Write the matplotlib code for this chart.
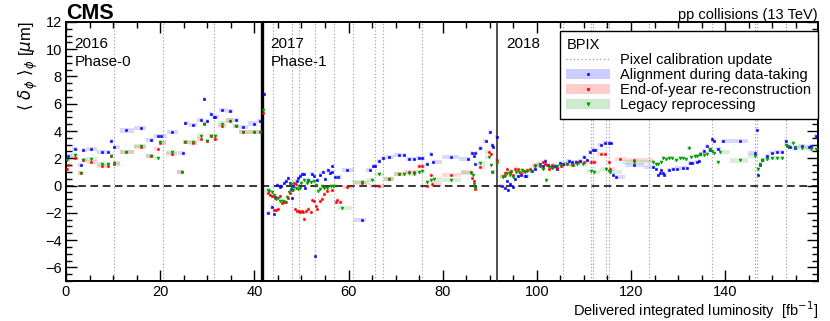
import numpy as np
import matplotlib
matplotlib.use('Agg')
import matplotlib.pyplot as plt
from matplotlib.lines import Line2D
from matplotlib.patches import Patch
from matplotlib.ticker import MultipleLocator

plt.rcParams['font.family'] = ['Liberation Sans', 'DejaVu Sans']
plt.rcParams['mathtext.fontset'] = 'dejavusans'

# ---- data ----
# alignment during data-taking (blue)
lumi_online = [0.4, 2.0, 3.2, 3.7, 5.4, 7.6, 8.9, 9.6, 10.3, 12.8, 15.9, 18.0, 19.5, 20.2, 22.6, 24.8, 25.2,
               26.9, 28.7, 29.4, 30.0, 30.7, 31.5, 31.7, 33.1, 34.9, 36.1, 37.5, 39.9, 41.3,
               42.0, 43.0, 43.7, 44.1, 44.4, 44.9, 45.4, 45.6, 46.4, 46.8, 47.2, 47.6, 47.8, 48.1, 48.3,
               49.0, 49.3, 49.75, 50.2, 50.5, 50.7, 51.3, 52.3, 52.7, 52.9, 53.3, 54.0, 54.6, 55.0,
               55.6, 56.1, 56.4, 56.6, 57.1, 57.7, 59.6, 62.8, 64.6, 65.2, 65.6, 66.5, 67.4, 68.6,
               70.7, 71.8, 72.8, 73.9, 74.9, 75.7, 76.6, 77.6, 78.0, 81.7, 85.3, 86.2, 86.7, 86.8,
               86.9, 87.9, 89.2, 90.1, 90.5, 90.7, 91.5,
               92.6, 93.2, 93.6, 93.9, 94.4, 94.9, 95.3, 96.0, 96.7, 97.4, 97.8, 98.9, 99.6, 100.6,
               101.3, 101.7, 102.4, 103.3, 103.9, 104.3, 104.9, 105.6, 106.8, 107.5, 108.4, 109.1,
               110.0, 110.7, 111.2, 111.9, 112.3, 113.6, 114.4, 115.3, 115.7, 116.2, 116.9,
               120.6, 124.7, 125.3, 125.8, 126.1, 126.4, 126.8, 127.0, 128.1, 129.0, 129.7, 131.1,
               131.9, 132.5, 133.0, 134.0, 134.5, 134.7, 135.4, 136.2, 136.7, 137.1, 137.6, 138.5,
               139.6, 143.2, 146.3, 146.8, 146.9, 147.3, 147.9, 148.8, 150.0, 150.9, 152.0, 152.9,
               153.3, 153.7, 154.8, 156.3, 157.7, 158.3, 159.3]
dphi_online = [2.19, 2.65, 1.48, 2.58, 2.65, 2.48, 2.48, 3.3, 2.8, 4.04, 4.2, 3.36, 3.64, 3.64, 3.9, 2.41, 4.6,
               4.47, 4.84, 6.35, 4.72, 5.26, 5.0, 5.0, 5.52, 5.45, 4.84, 4.3, 4.55, 4.76,
               6.7, -2.0, -1.56, -2.06, -0.83, 0.02, -0.12, 0.0, 0.2, 0.34, 0.58, 0.2, -0.25, -0.9, 0.0,
               0.36, 0.54, 0.68, 0.83, 0.88, -0.15, 0.44, 0.83, 0.68, -5.2, 0.39, 0.81, 1.0, 0.5,
               1.17, 0.9, 1.03, 1.41, 0.63, 0.63, 1.12, -2.53, 1.17, 1.41, 1.41, 1.82, 2.0, 2.07,
               2.24, 2.24, 1.95, 1.95, 2.0, 2.0, 1.56, 2.31, 1.73, 2.07, 1.95, 2.38, 2.17, 1.56,
               2.36, 2.77, 3.26, 3.91, 3.0, 2.8, 3.57,
               0.0, -0.2, 0.34, -0.34, 0.1, -0.1, 0.45, 0.69, 0.8, 0.69, 0.69, 1.07, 1.25, 1.6,
               1.4, 1.8, 1.5, 1.35, 1.4, 1.25, 1.67, 1.6, 1.8, 1.7, 1.75, 1.8,
               2.1, 1.9, 2.46, 2.6, 2.6, 3.0, 3.1, 3.14, 3.14, 0.8, 0.63,
               1.48, 1.38, 1.2, 0.78, 0.95, 1.15, 0.95, 0.78, 1.12, 1.2, 1.25, 1.32,
               1.32, 1.65, 1.65, 1.75, 1.78, 2.28, 2.5, 2.9, 2.6, 3.38, 3.26, 2.7,
               3.26, 3.3, 2.39, 4.06, 0.8, 1.5, 1.9, 2.16, 2.36, 2.43, 2.45, 3.26,
               2.9, 2.8, 2.77, 2.9, 2.85, 2.9, 3.6]

# end-of-year re-reconstruction (red)
lumi_eoy = [0.3, 0.5, 2.0, 3.2, 3.7, 5.4, 7.6, 8.9, 9.6, 10.3, 12.8, 15.9, 18.0, 19.5, 20.0, 22.6, 24.7, 25.2,
            26.9, 28.7, 29.4, 30.0, 30.7, 31.6, 33.1, 34.9, 36.1, 37.5, 39.9, 41.3, 41.9,
            42.8, 43.4, 43.8, 44.2, 44.4, 44.6, 45.1, 45.5, 45.9, 46.3, 46.7, 47.2, 47.6, 48.1, 48.5,
            48.6, 48.9, 49.0, 49.4, 49.8, 50.1, 50.3, 50.5, 50.9, 51.5, 52.0, 52.3, 52.7, 53.0, 53.3,
            53.9, 54.4, 54.9, 55.5, 56.4, 57.3, 57.6, 58.2, 59.6, 62.8, 66.5, 68.6, 70.7, 72.8, 73.9,
            75.0, 75.7, 76.7, 77.6, 77.8, 81.7, 86.1, 86.3, 86.7, 86.9, 87.9, 89.9, 90.3, 90.5, 91.6,
            92.9, 93.3, 93.7, 94.2, 94.6, 95.0, 95.4, 96.0, 96.6, 97.2, 97.9, 98.6, 99.5, 100.6,
            101.2, 101.7, 102.1, 102.6, 103.3, 104.2, 105.2, 106.5, 107.6, 108.8, 110.0, 111.6,
            112.1, 113.6, 114.4, 115.3, 115.5, 117.6, 120.6]
dphi_eoy = [1.24, 1.53, 2.0, 0.95, 1.86, 1.75, 1.41, 1.41, 2.2, 1.58, 2.46, 2.8, 2.17, 2.7, 3.14, 2.3, 1.02, 3.2,
            3.1, 3.43, 4.5, 3.26, 3.65, 3.4, 4.4, 4.77, 4.4, 3.9, 3.9, 3.96, 5.3,
            -0.56, -0.7, -0.8, -1.8, -0.9, -1.8, -1.7, -0.8, -1.26, -1.2, -1.2, -0.9, -0.56, -0.34, 0.22,
            -1.75, 0.1, -1.9, -1.9, -1.95, -1.9, -1.95, -2.48, -1.9, -1.7, -1.95, -1.07, -1.15, -1.48, -1.75,
            -1.15, -0.95, -0.65, -0.39, -0.3, -1.2, -1.05, -1.2, -0.1, 0.2, 0.0, 0.49, 0.83, 1.0, 1.0,
            1.46, 1.46, 0.0, 0.8, 0.15, 0.8, 1.02, 0.58, 0.34, -0.27, 1.36, 2.46, 2.34, 1.02, 1.9,
            0.7, 0.92, 1.2, 1.0, 1.1, 0.8, 1.25, 1.2, 0.9, 1.1, 1.15, 1.2, 1.5, 1.45,
            1.7, 1.55, 1.5, 1.2, 1.5, 1.3, 1.45, 1.6, 1.5, 1.7, 1.75, 1.72,
            1.72, 2.34, 2.3, 1.72, 1.24, 1.95, 1.85]

# legacy reprocessing (green)
lumi_legacy = [0.3, 2.0, 3.2, 3.7, 5.4, 7.6, 8.9, 9.6, 10.3, 12.8, 15.9, 18.0, 19.5, 20.0, 22.6, 24.7, 25.2,
               26.9, 28.7, 29.4, 30.0, 30.7, 31.6, 33.1, 34.9, 36.1, 37.5, 39.9, 41.3, 41.9,
               42.8, 43.2, 43.7, 44.2, 44.6, 45.1, 45.5, 46.1, 46.5, 46.9, 47.3, 47.7, 48.0, 48.3, 48.8,
               49.3, 49.6, 50.0, 50.6, 51.1, 51.5, 52.0, 52.7, 53.1, 53.5, 53.9, 54.4, 54.9, 55.5,
               56.2, 56.7, 58.7, 62.8, 64.9, 66.5, 68.6, 70.7, 71.8, 72.8, 73.9, 75.0, 75.7, 76.6,
               77.6, 78.1, 81.7, 86.1, 86.5, 86.7, 86.8, 87.9, 89.9, 90.3, 90.5, 91.6,
               92.9, 93.3, 93.7, 94.2, 94.6, 95.0, 95.6, 96.2, 96.8, 97.5, 98.0, 98.7, 99.6, 100.6,
               101.3, 102.0, 102.6, 103.3, 104.2, 105.2, 106.3, 107.5, 108.6, 109.8, 111.6, 112.1,
               114.6, 115.3, 115.6, 120.6, 124.7, 125.3, 125.8, 126.3, 126.8, 127.5, 128.1, 128.8,
               129.5, 130.3, 131.0, 131.6, 132.3, 132.8, 133.5, 134.1, 134.7, 135.4, 136.2, 136.7,
               137.1, 137.7, 138.5, 139.0, 143.2, 146.3, 146.9, 147.4, 147.9, 148.8, 150.0, 150.9,
               152.0, 152.9, 153.3, 154.3, 154.8, 156.3, 158.3, 159.3]
dphi_legacy = [1.9, 2.26, 0.95, 1.9, 1.97, 1.6, 1.6, 2.2, 1.65, 2.46, 2.9, 2.17, 2.02, 3.2, 2.48, 1.02, 3.2,
               3.18, 3.67, 4.55, 3.26, 3.65, 3.6, 4.55, 4.77, 4.4, 3.9, 3.9, 3.9, 5.55,
               -0.34, -0.4, -0.45, -0.7, -0.95, -0.9, -1.1, -1.1, -1.2, -0.85, -0.45, 0.1, -0.2, -0.34, -0.15,
               -0.25, -0.15, 0.22, 0.43, 0.2, 0.3, 0.25, 0.3, 0.05, -0.4, -0.25, 0.0, -0.15, -0.2,
               0.0, -0.05, -1.63, 0.25, 0.4, 0.83, 0.49, 0.83, 0.83, 0.9, 0.83, 1.0, 1.05, 0.27,
               0.4, 0.5, 0.4, 0.95, 0.8, 0.1, -0.2, 1.65, 2.07, 1.5, 1.02, 1.65,
               0.6, 0.7, 0.9, 0.8, 1.0, 0.6, 1.0, 1.0, 1.15, 1.0, 1.1, 1.1, 1.4, 1.5,
               1.25, 0.41, 1.35, 1.3, 1.4, 1.5, 1.55, 1.5, 1.6, 1.6, 1.07, 1.0,
               1.2, 1.07, 1.0, 1.75, 1.72, 1.55, 1.6, 1.7, 2.0, 1.95, 2.0, 2.0,
               1.9, 2.0, 2.05, 1.95, 2.75, 2.1, 2.15, 2.2, 2.3, 2.25, 2.3, 2.7,
               2.5, 2.4, 1.72, 2.45, 1.84, 2.2, 1.2, 1.6, 1.9, 1.95, 2.05, 2.05,
               2.05, 3.0, 2.8, 3.1, 2.8, 2.75, 2.7, 2.7]

# pixel calibration updates and year boundaries
pixel_updates = [10.2, 20.5, 31.5, 44.0, 48.0, 49.4, 52.9, 56.9, 61.0, 65.6, 67.4, 75.7,
                 105.6, 111.6, 112.0, 114.6, 115.4, 123.8, 137.1, 146.3, 146.7, 152.9]
year_bounds = [0.0, 41.6, 91.6, 159.7]
years = ['2016', '2017', '2018']
phases = ['Phase-0', 'Phase-1', '']


def iov_edges(x, bounds, cap=4.0):
    x = np.asarray(x, dtype=float)
    lo = np.empty_like(x)
    hi = np.empty_like(x)
    for i in range(len(x)):
        seg = np.searchsorted(bounds, x[i]) - 1
        s0, s1 = bounds[max(seg, 0)], bounds[min(seg + 1, len(bounds) - 1)]
        left = (x[i] + x[i - 1]) / 2 if i > 0 else x[i] - cap
        right = (x[i] + x[i + 1]) / 2 if i < len(x) - 1 else x[i] + cap
        lo[i] = max(left, s0, x[i] - cap)
        hi[i] = min(right, s1, x[i] + cap)
    return lo, hi


fig = plt.figure(figsize=(8.3, 3.21), dpi=100)
ax = fig.add_axes([0.0795, 0.1246, 0.906, 0.807])

for xv in pixel_updates:
    ax.axvline(xv, color='#999999', ls=(0, (1, 2)), lw=0.8, zorder=1)
ax.axvline(year_bounds[1], color='black', lw=2.4, zorder=4)
ax.axvline(year_bounds[2], color='#222222', lw=1.1, zorder=4)
ax.axhline(0, color='black', ls=(0, (5, 3)), lw=1.1, zorder=2)

series = [
    (lumi_online, dphi_online, '#0000ff', 's', 1.5, 'Alignment during data-taking'),
    (lumi_eoy, dphi_eoy, '#ff0000', 'o', 1.6, 'End-of-year re-reconstruction'),
    (lumi_legacy, dphi_legacy, '#009a00', 'v', 2.0, 'Legacy reprocessing'),
]
handles = [Line2D([], [], color='#999999', ls=(0, (1, 2)), lw=0.9)]
labels = ['Pixel calibration update']
for xs, ys, col, mk, ms, lab in series:
    lo, hi = iov_edges(xs, year_bounds)
    ys = np.asarray(ys)
    ax.bar(lo, 0.3, width=hi - lo, bottom=ys - 0.15, align='edge', color=col, alpha=0.15,
           linewidth=0, zorder=3)
    ax.plot(xs, ys, ls='none', marker=mk, ms=ms, mew=0.4, color=col, mec=col, zorder=5)
    handles.append((Patch(facecolor=col, alpha=0.2, linewidth=0),
                    Line2D([], [], ls='none', marker=mk, ms=ms + 0.4, mew=0.4, color=col)))
    labels.append(lab)

# year / phase labels
for x0, yr, ph in zip(year_bounds[:-1], years, phases):
    ax.text(x0 + 1.8, 10.4, yr, fontsize=11, va='center', ha='left', zorder=6)
    if ph:
        ax.text(x0 + 1.8, 9.05, ph, fontsize=11, va='center', ha='left', zorder=6)

ax.set_xlim(0, 159.7)
ax.set_ylim(-7, 12)
ax.xaxis.set_major_locator(MultipleLocator(20))
ax.xaxis.set_minor_locator(MultipleLocator(5))
ax.yaxis.set_major_locator(MultipleLocator(2))
ax.yaxis.set_minor_locator(MultipleLocator(0.5))
ax.tick_params(which='both', direction='in', top=True, right=True, labelsize=10.5, width=1)
ax.tick_params(which='major', length=8, pad=3)
ax.tick_params(which='minor', length=4)
for sp in ax.spines.values():
    sp.set_linewidth(1.4)

ax.set_xlabel(r'Delivered integrated luminosity  [fb$^{-1}$]', fontsize=10.5, loc='right', labelpad=0)
ax.set_ylabel(r'$\langle\ \delta_{\phi}\ \rangle_{\phi}$ [$\mu$m]', fontsize=12, loc='top', labelpad=4)

fig.text(0.0795, 0.94, 'CMS', fontsize=15.5, fontweight='bold', ha='left', va='baseline')
fig.text(0.9855, 0.94, 'pp collisions (13 TeV)', fontsize=10.5, ha='right', va='baseline')

leg = ax.legend(handles, labels, title='BPIX', loc='upper right', bbox_to_anchor=(1.0, 0.965),
                fontsize=10.5, title_fontsize=10.5, frameon=True, fancybox=False, framealpha=1,
                edgecolor='black', handlelength=3.0, handletextpad=0.7, labelspacing=0.08,
                borderpad=0.45, borderaxespad=0, alignment='left')
leg.get_frame().set_linewidth(1.0)
leg.set_zorder(10)

fig.savefig('out.png', dpi=100)
